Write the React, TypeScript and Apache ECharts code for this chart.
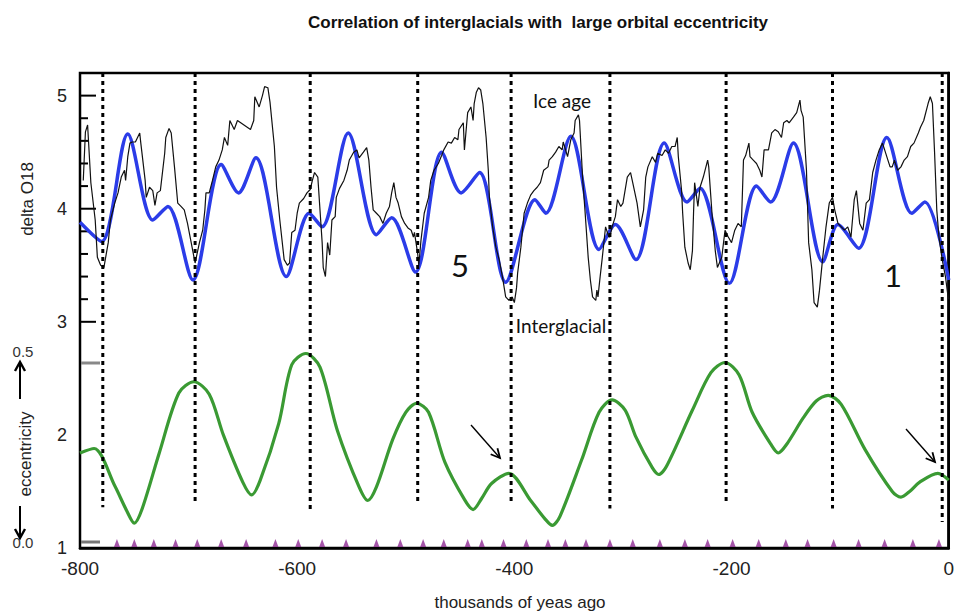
import React, { useEffect, useRef } from "react";
import * as echarts from "echarts";

// ---- data (thousands of years ago, delta O18 / eccentricity on the shared scale) ----
const xTickValues = [-800, -600, -400, -200, 0];
const yTickValues = [1, 2, 3, 4, 5];

const deltaO18Record: [number, number][] = [
  [-797, 4.25], [-795, 4.68], [-793, 4.74], [-790, 4.23], [-786, 3.9], [-784, 3.57], [-781, 3.5], [-778, 3.48],
  [-774, 3.7], [-772, 3.9], [-768, 4.05], [-765, 4.14], [-762, 4.28], [-759, 4.34], [-758, 4.25], [-756, 4.46],
  [-754, 4.58], [-752, 4.59], [-749, 4.59], [-745, 4.67], [-744, 4.58], [-740, 4.25], [-739, 4.1], [-736, 4.19],
  [-733, 4.16], [-731, 4.03], [-729, 4.14], [-726, 4.16], [-722, 4.49], [-721, 4.63], [-718, 4.71], [-716, 4.67],
  [-713, 4.37], [-710, 4.05], [-707, 4.02], [-704, 3.99], [-701, 3.87], [-698, 3.72], [-695, 3.57], [-694, 3.52],
  [-690, 3.7], [-687, 3.81], [-685, 3.99], [-684, 4.14], [-681, 4.14], [-678, 4.25], [-675, 4.37], [-672, 4.43],
  [-669, 4.52], [-667, 4.63], [-664, 4.56], [-662, 4.78], [-658, 4.7], [-655, 4.78], [-652, 4.76], [-649, 4.74],
  [-646, 4.72], [-643, 4.7], [-640, 4.78], [-639, 4.99], [-635, 4.9], [-632, 5.0], [-630, 5.08], [-627, 5.07],
  [-625, 4.94], [-621, 4.55], [-619, 4.19], [-616, 3.9], [-612, 3.55], [-609, 3.5], [-607, 3.52], [-605, 3.79],
  [-602, 3.81], [-600, 3.96], [-598, 4.05], [-594, 4.09], [-591, 4.14], [-588, 4.17], [-586, 4.25], [-584, 4.32],
  [-581, 4.28], [-579, 3.99], [-577, 3.7], [-576, 3.48], [-574, 3.4], [-572, 3.7], [-570, 3.59], [-568, 3.9],
  [-565, 3.93], [-564, 4.1], [-561, 4.18], [-557, 4.25], [-554, 4.34], [-552, 4.43], [-548, 4.5], [-545, 4.52],
  [-543, 4.45], [-539, 4.5], [-536, 4.54], [-534, 4.43], [-532, 4.19], [-530, 3.99], [-527, 3.96], [-524, 3.93],
  [-521, 3.87], [-518, 3.96], [-515, 4.02], [-513, 4.14], [-511, 4.23], [-509, 4.1], [-507, 4.05], [-504, 3.93],
  [-501, 3.87], [-498, 3.83], [-495, 3.81], [-493, 3.75], [-492, 3.79], [-489, 3.6], [-488, 3.5], [-486, 3.72],
  [-483, 3.96], [-479, 4.1], [-477, 4.25], [-474, 4.34], [-470, 4.4], [-467, 4.47], [-465, 4.52], [-461, 4.59],
  [-458, 4.58], [-455, 4.63], [-452, 4.61], [-451, 4.7], [-447, 4.76], [-446, 4.52], [-444, 4.74], [-443, 4.85],
  [-440, 4.9], [-438, 4.78], [-437, 4.93], [-435, 5.03], [-433, 5.07], [-431, 5.05], [-429, 4.93], [-426, 4.63],
  [-424, 4.34], [-423, 4.1], [-420, 3.84], [-417, 3.66], [-414, 3.55], [-411, 3.4], [-408, 3.22], [-405, 3.19],
  [-402, 3.22], [-400, 3.17], [-398, 3.3], [-397, 3.43], [-394, 3.66], [-391, 3.96], [-388, 4.05], [-385, 4.12],
  [-382, 4.16], [-379, 4.19], [-376, 4.23], [-373, 4.34], [-369, 4.37], [-368, 4.43], [-365, 4.46], [-362, 4.5],
  [-359, 4.55], [-356, 4.52], [-355, 4.59], [-351, 4.46], [-348, 4.61], [-345, 4.67], [-344, 4.78], [-341, 4.83],
  [-340, 4.78], [-337, 4.25], [-335, 3.99], [-332, 3.57], [-330, 3.37], [-328, 3.22], [-325, 3.19], [-324, 3.28],
  [-323, 3.22], [-321, 3.4], [-319, 3.57], [-316, 3.84], [-313, 3.75], [-312, 3.75], [-310, 3.84], [-307, 3.93],
  [-305, 4.08], [-302, 4.02], [-300, 4.05], [-296, 4.28], [-293, 4.32], [-291, 4.23], [-287, 4.05], [-284, 3.84],
  [-281, 3.99], [-279, 4.28], [-277, 4.37], [-273, 4.46], [-270, 4.41], [-268, 4.49], [-264, 4.47], [-261, 4.52],
  [-258, 4.49], [-255, 4.55], [-252, 4.55], [-250, 4.63], [-249, 4.46], [-246, 4.16], [-245, 3.96], [-243, 3.66],
  [-240, 3.52], [-238, 3.46], [-236, 3.63], [-235, 3.96], [-234, 4.23], [-231, 4.02], [-229, 4.19], [-226, 4.28],
  [-222, 4.43], [-221, 4.37], [-218, 3.96], [-215, 3.63], [-213, 3.48], [-209, 3.57], [-206, 3.81], [-203, 3.75],
  [-200, 3.7], [-197, 3.81], [-194, 3.87], [-191, 3.84], [-189, 4.43], [-187, 4.47], [-184, 4.58], [-183, 4.46],
  [-180, 4.43], [-177, 4.4], [-174, 4.34], [-172, 4.28], [-170, 4.52], [-166, 4.52], [-163, 4.67], [-160, 4.7],
  [-157, 4.68], [-154, 4.63], [-152, 4.76], [-149, 4.78], [-147, 4.76], [-143, 4.81], [-140, 4.85], [-137, 4.96],
  [-136, 4.87], [-134, 4.81], [-131, 4.34], [-129, 3.7], [-126, 3.46], [-124, 3.17], [-121, 3.13], [-119, 3.28],
  [-116, 3.57], [-113, 3.84], [-110, 4.05], [-107, 4.1], [-105, 3.99], [-102, 3.87], [-99, 3.84], [-96, 3.81],
  [-93, 3.84], [-90, 3.75], [-87, 4.08], [-85, 4.16], [-82, 3.87], [-79, 3.81], [-76, 4.05], [-73, 4.08],
  [-70, 4.32], [-67, 4.43], [-64, 4.52], [-61, 4.58], [-59, 4.52], [-56, 4.43], [-54, 4.37], [-52, 4.37],
  [-50, 4.43], [-47, 4.34], [-44, 4.37], [-41, 4.43], [-38, 4.46], [-35, 4.55], [-32, 4.58], [-28, 4.67],
  [-26, 4.72], [-23, 4.78], [-19, 4.93], [-17, 4.99], [-15, 4.93], [-13, 4.49], [-11, 3.99], [-9, 3.75],
  [-6, 3.55], [-3, 3.4], [-1, 3.25], [0, 3.2],
];

const orbitalModel: [number, number][] = [
  [-800, 3.88], [-780, 3.71], [-756, 4.66], [-733, 3.9], [-719, 4.02], [-696, 3.37], [-670, 4.39], [-654, 4.14],
  [-638, 4.45], [-610, 3.4], [-589, 3.96], [-577, 3.84], [-553, 4.67], [-527, 3.77], [-513, 3.92], [-491, 3.44],
  [-467, 4.5], [-449, 4.14], [-432, 4.32], [-408, 3.35], [-381, 4.08], [-371, 3.96], [-348, 4.64], [-322, 3.64],
  [-307, 3.86], [-288, 3.55], [-262, 4.58], [-241, 4.06], [-229, 4.18], [-202, 3.34], [-177, 4.2], [-164, 4.06],
  [-143, 4.58], [-116, 3.53], [-102, 3.86], [-83, 3.65], [-57, 4.63], [-34, 3.96], [-22, 4.06], [0, 3.37],
];

const eccentricity: [number, number][] = [
  [-800, 1.84], [-787, 1.88], [-768, 1.55], [-757, 1.33], [-750, 1.22], [-743, 1.34], [-727, 1.84],
  [-709, 2.37], [-695, 2.47], [-681, 2.36], [-668, 2.0], [-650, 1.58], [-642, 1.47], [-634, 1.6], [-617, 2.1],
  [-605, 2.62], [-592, 2.72], [-579, 2.6], [-563, 2.04], [-543, 1.54], [-535, 1.42], [-527, 1.54], [-512, 1.96],
  [-500, 2.2], [-490, 2.28], [-479, 2.2], [-464, 1.76], [-446, 1.43], [-438, 1.34], [-430, 1.44], [-421, 1.57],
  [-405, 1.66], [-385, 1.42], [-372, 1.26], [-365, 1.2], [-358, 1.28], [-338, 1.78], [-322, 2.2],
  [-310, 2.31], [-298, 2.22], [-288, 1.98], [-273, 1.71], [-267, 1.65], [-260, 1.72], [-236, 2.22], [-219, 2.55],
  [-206, 2.64], [-193, 2.53], [-181, 2.2], [-164, 1.92], [-157, 1.84], [-149, 1.92], [-134, 2.15], [-122, 2.3],
  [-111, 2.35], [-99, 2.27], [-77, 1.87], [-52, 1.5], [-44, 1.45], [-36, 1.5], [-27, 1.58], [-10, 1.66], [0, 1.6],
];

const interglacialYears = [-779, -694, -588, -489, -403, -312, -205, -107, -6];
const interglacialLineBottom = [1.36, 1.4, 1.32, 1.4, 1.41, 1.35, 1.4, 1.35, 1.23];

const precessionMarks = [
  -766, -750, -732, -712, -692, -670, -647, -620, -599, -577, -555, -527, -505, -484, -465, -443, -430, -410,
  -389, -369, -353, -334, -312, -291, -266, -243, -222, -199, -175, -150, -130, -106, -83, -59, -33, -9,
];

const majorTicks = [3, 4, 5];
const minorTicks = [3.2, 3.4, 3.6, 3.8, 4.2, 4.4, 4.6, 4.8];

const SANS = "'Liberation Sans', Arial, Helvetica, sans-serif";
const NOTE = "Lato, 'Noto Sans', sans-serif";

function arrow(x1: number, y1: number, x2: number, y2: number, head = 9, half = 4.5, width = 1.4) {
  const dx = x2 - x1;
  const dy = y2 - y1;
  const len = Math.sqrt(dx * dx + dy * dy);
  const ux = dx / len;
  const uy = dy / len;
  const bx = x2 - ux * head;
  const by = y2 - uy * head;
  const px = -uy * half;
  const py = ux * half;
  return [
    { type: "line", shape: { x1, y1, x2, y2 }, style: { stroke: "#000", lineWidth: width }, silent: true },
    {
      type: "polyline",
      shape: { points: [[bx + px, by + py], [x2, y2], [bx - px, by - py]] },
      style: { stroke: "#000", lineWidth: width + 0.4, fill: null },
      silent: true,
    },
  ];
}

export default function App() {
  const ref = useRef<HTMLDivElement>(null);

  useEffect(() => {
    if (!ref.current) return;
    const chart = echarts.init(ref.current, null, { renderer: "svg" });

    const annotations: any[] = [
      {
        type: "text", x: 538, y: 22,
        style: { text: "Correlation of interglacials with  large orbital eccentricity", align: "center", verticalAlign: "middle", fontSize: 17, fontWeight: "bold", fontFamily: SANS, fill: "#111" },
      },
      {
        type: "text", x: 27, y: 199, rotation: Math.PI / 2,
        style: { text: "delta O18", align: "center", verticalAlign: "middle", fontSize: 17, fontFamily: SANS, fill: "#222" },
      },
      {
        type: "text", x: 520, y: 602,
        style: { text: "thousands of yeas ago", align: "center", verticalAlign: "middle", fontSize: 17, fontFamily: SANS, fill: "#222" },
      },
      { type: "text", x: 23, y: 351, style: { text: "0.5", align: "center", verticalAlign: "middle", fontSize: 15, fontFamily: SANS, fill: "#333" } },
      { type: "text", x: 23, y: 542, style: { text: "0.0", align: "center", verticalAlign: "middle", fontSize: 15, fontFamily: SANS, fill: "#333" } },
      {
        type: "text", x: 25, y: 454, rotation: Math.PI / 2,
        style: { text: "eccentricity", align: "center", verticalAlign: "middle", fontSize: 17, fontFamily: SANS, fill: "#222" },
      },
      ...arrow(20, 399, 20, 362, 9, 5, 2),
      ...arrow(20, 506, 20, 538, 9, 5, 2),
      { type: "line", shape: { x1: 81, y1: 363, x2: 100, y2: 363 }, style: { stroke: "#888", lineWidth: 3 }, silent: true },
      { type: "line", shape: { x1: 81, y1: 542, x2: 100, y2: 542 }, style: { stroke: "#777", lineWidth: 3 }, silent: true },
      { type: "text", x: 562, y: 100, style: { text: "Ice age", align: "center", verticalAlign: "middle", fontSize: 19, fontFamily: NOTE, fill: "#111" } },
      { type: "text", x: 561, y: 325, style: { text: "Interglacial", align: "center", verticalAlign: "middle", fontSize: 19, fontFamily: NOTE, fill: "#111" } },
      { type: "text", x: 460, y: 265, style: { text: "5", align: "center", verticalAlign: "middle", fontSize: 31, fontFamily: NOTE, fill: "#111" } },
      { type: "text", x: 893, y: 275, style: { text: "1", align: "center", verticalAlign: "middle", fontSize: 31, fontFamily: NOTE, fill: "#111" } },
      ...arrow(471, 425, 500, 458),
      ...arrow(906, 429, 935, 462),
    ];

    const dottedSeries = interglacialYears.map((x, i) => ({
      type: "line",
      data: [[x, 5.2], [x, interglacialLineBottom[i]]],
      showSymbol: false,
      silent: true,
      z: 5,
      lineStyle: { color: "#000", width: 3, type: [4, 4] },
    }));

    const option: any = {
      animation: false,
      backgroundColor: "#fff",
      grid: { left: 80, right: 4, top: 73, bottom: 64, show: true, borderColor: "#000", borderWidth: 2.5, backgroundColor: "transparent" },
      xAxis: {
        type: "value", min: xTickValues[0], max: xTickValues[xTickValues.length - 1], interval: 200,
        axisLine: { show: true, lineStyle: { color: "#000", width: 2.5 } },
        axisTick: { show: false },
        splitLine: { show: false },
        axisLabel: { fontSize: 19, fontFamily: SANS, color: "#222", margin: 11 },
      },
      yAxis: {
        type: "value", min: yTickValues[0], max: 5.2, interval: 1,
        axisLine: { show: true, lineStyle: { color: "#000", width: 2.5 } },
        axisTick: { show: false },
        splitLine: { show: false },
        axisLabel: { fontSize: 18, fontFamily: SANS, color: "#222", margin: 13, showMaxLabel: false,
          formatter: (v: number) => (yTickValues.includes(v) ? String(v) : "") },
      },
      graphic: annotations,
      series: [
        {
          type: "line", name: "orbital model", data: orbitalModel, smooth: 0.3, showSymbol: false, z: 2,
          lineStyle: { color: "#2b3ce8", width: 3.5 },
        },
        {
          type: "line", name: "delta O18", data: deltaO18Record, showSymbol: false, z: 3,
          lineStyle: { color: "#111", width: 1.2 },
        },
        {
          type: "line", name: "eccentricity", data: eccentricity, smooth: 0.3, showSymbol: false, z: 3,
          lineStyle: { color: "#3a9a33", width: 3.2 },
        },
        ...dottedSeries,
        {
          type: "scatter", name: "precession", data: precessionMarks.map((x) => [x, 1.045]),
          symbol: "triangle", symbolSize: [6, 8], z: 4, silent: true,
          itemStyle: { color: "#8e2a94" },
        },
      ],
    };
    chart.setOption(option);

    const tickEls: any[] = [];
    const addTick = (v: number, len: number) => {
      const p = chart.convertToPixel({ gridIndex: 0 }, [xTickValues[0], v]) as number[];
      tickEls.push({
        type: "line", shape: { x1: p[0], y1: p[1], x2: p[0] + len, y2: p[1] },
        style: { stroke: "#000", lineWidth: 2 }, silent: true,
      });
    };
    majorTicks.forEach((v) => addTick(v, 16));
    minorTicks.forEach((v) => addTick(v, 8));
    chart.setOption({ graphic: [...annotations, ...tickEls] });

    return () => chart.dispose();
  }, []);

  return <div ref={ref} style={{ position: "absolute", left: 0, top: 0, width: 957, height: 612 }} />;
}
